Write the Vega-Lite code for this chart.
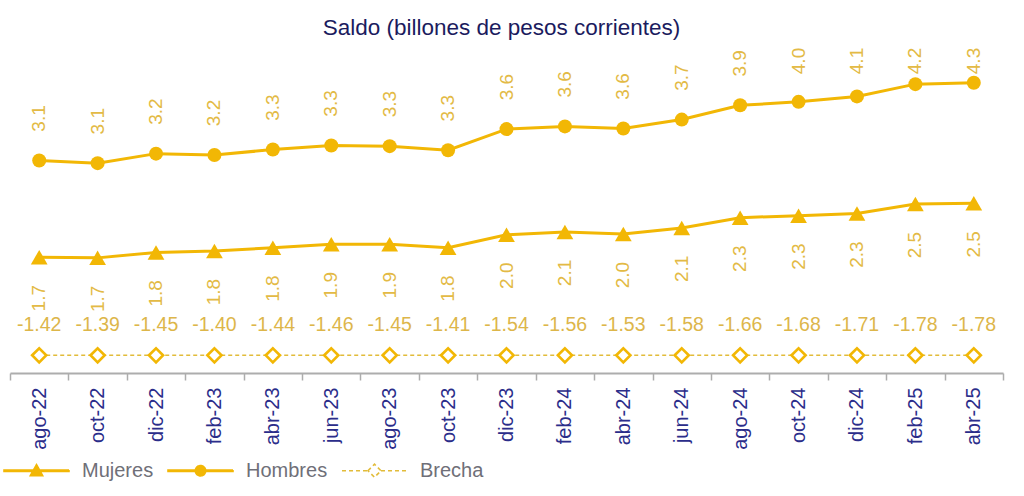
{
  "$schema": "https://vega.github.io/schema/vega-lite/v6.json",
  "width": 993,
  "height": 327,
  "autosize": {"type": "none"},
  "padding": {"left": 10, "top": 46, "right": 21, "bottom": 123},
  "background": "#ffffff",
  "title": {
    "text": "Saldo (billones de pesos corrientes)",
    "font": "Liberation Sans",
    "fontSize": 22.5,
    "fontWeight": "normal",
    "color": "#1B1B5E",
    "anchor": "middle",
    "baseline": "alphabetic",
    "offset": -11,
    "dx": -5
  },
  "config": {
    "view": {"stroke": null},
    "axis": {"grid": false},
    "text": {"font": "Liberation Sans"},
    "locale": {"number": {"decimal": ".", "thousands": ",", "grouping": [3], "currency": ["$", ""], "minus": "-"}}
  },
  "data": {
    "values": [
      {"mes": "ago-22", "serie": "Hombres", "valor": 3.12},
      {"mes": "oct-22", "serie": "Hombres", "valor": 3.08},
      {"mes": "dic-22", "serie": "Hombres", "valor": 3.22},
      {"mes": "feb-23", "serie": "Hombres", "valor": 3.20},
      {"mes": "abr-23", "serie": "Hombres", "valor": 3.28},
      {"mes": "jun-23", "serie": "Hombres", "valor": 3.34},
      {"mes": "ago-23", "serie": "Hombres", "valor": 3.33},
      {"mes": "oct-23", "serie": "Hombres", "valor": 3.27},
      {"mes": "dic-23", "serie": "Hombres", "valor": 3.58},
      {"mes": "feb-24", "serie": "Hombres", "valor": 3.62},
      {"mes": "abr-24", "serie": "Hombres", "valor": 3.59},
      {"mes": "jun-24", "serie": "Hombres", "valor": 3.72},
      {"mes": "ago-24", "serie": "Hombres", "valor": 3.93},
      {"mes": "oct-24", "serie": "Hombres", "valor": 3.98},
      {"mes": "dic-24", "serie": "Hombres", "valor": 4.06},
      {"mes": "feb-25", "serie": "Hombres", "valor": 4.24},
      {"mes": "abr-25", "serie": "Hombres", "valor": 4.26},
      {"mes": "ago-22", "serie": "Mujeres", "valor": 1.70},
      {"mes": "oct-22", "serie": "Mujeres", "valor": 1.69},
      {"mes": "dic-22", "serie": "Mujeres", "valor": 1.77},
      {"mes": "feb-23", "serie": "Mujeres", "valor": 1.79},
      {"mes": "abr-23", "serie": "Mujeres", "valor": 1.84},
      {"mes": "jun-23", "serie": "Mujeres", "valor": 1.89},
      {"mes": "ago-23", "serie": "Mujeres", "valor": 1.89},
      {"mes": "oct-23", "serie": "Mujeres", "valor": 1.84},
      {"mes": "dic-23", "serie": "Mujeres", "valor": 2.03},
      {"mes": "feb-24", "serie": "Mujeres", "valor": 2.07},
      {"mes": "abr-24", "serie": "Mujeres", "valor": 2.04},
      {"mes": "jun-24", "serie": "Mujeres", "valor": 2.13},
      {"mes": "ago-24", "serie": "Mujeres", "valor": 2.28},
      {"mes": "oct-24", "serie": "Mujeres", "valor": 2.31},
      {"mes": "dic-24", "serie": "Mujeres", "valor": 2.34},
      {"mes": "feb-25", "serie": "Mujeres", "valor": 2.48},
      {"mes": "abr-25", "serie": "Mujeres", "valor": 2.49},
      {"mes": "ago-22", "serie": "Brecha", "valor": -1.42},
      {"mes": "oct-22", "serie": "Brecha", "valor": -1.39},
      {"mes": "dic-22", "serie": "Brecha", "valor": -1.45},
      {"mes": "feb-23", "serie": "Brecha", "valor": -1.40},
      {"mes": "abr-23", "serie": "Brecha", "valor": -1.44},
      {"mes": "jun-23", "serie": "Brecha", "valor": -1.46},
      {"mes": "ago-23", "serie": "Brecha", "valor": -1.45},
      {"mes": "oct-23", "serie": "Brecha", "valor": -1.41},
      {"mes": "dic-23", "serie": "Brecha", "valor": -1.54},
      {"mes": "feb-24", "serie": "Brecha", "valor": -1.56},
      {"mes": "abr-24", "serie": "Brecha", "valor": -1.53},
      {"mes": "jun-24", "serie": "Brecha", "valor": -1.58},
      {"mes": "ago-24", "serie": "Brecha", "valor": -1.66},
      {"mes": "oct-24", "serie": "Brecha", "valor": -1.68},
      {"mes": "dic-24", "serie": "Brecha", "valor": -1.71},
      {"mes": "feb-25", "serie": "Brecha", "valor": -1.78},
      {"mes": "abr-25", "serie": "Brecha", "valor": -1.78}
    ]
  },
  "encoding": {
    "x": {
      "field": "mes",
      "type": "ordinal",
      "sort": null,
      "scale": {"type": "band", "paddingInner": 0, "paddingOuter": 0},
      "axis": {
        "title": null,
        "labelAngle": -90,
        "labelFont": "Liberation Sans",
        "labelFontSize": 20,
        "labelColor": "#2B2D8A",
        "labelPadding": 7,
        "domainColor": "#ADADAD",
        "domainWidth": 2,
        "tickColor": "#ADADAD",
        "tickWidth": 1.5,
        "tickSize": 7,
        "tickBand": "extent"
      }
    }
  },
  "layer": [
    {
      "transform": [{"filter": "datum.serie !== 'Brecha'"}],
      "mark": {"type": "line", "strokeWidth": 3},
      "encoding": {
        "y": {"field": "valor", "type": "quantitative", "scale": {"domain": [0, 4.8], "nice": false, "zero": false}, "axis": null},
        "detail": {"field": "serie"},
        "color": {
          "field": "serie",
          "type": "nominal",
          "scale": {"domain": ["Mujeres", "Hombres", "Brecha"], "range": ["#F2B705", "#F2B705", "#E2BC3A"]},
          "legend": {
            "orient": "none",
            "legendX": -7,
            "legendY": 391,
            "direction": "horizontal",
            "title": null,
            "padding": 0,
            "symbolSize": 4225,
            "symbolStrokeWidth": 1.6,
            "labelFont": "Liberation Sans",
            "labelFontSize": 20,
            "labelColor": "#6F6F78",
            "labelOffset": 12,
            "columnPadding": 10,
            "encode": {
              "symbols": {
                "update": {
                  "size": {"value": 4225},
                  "strokeWidth": {"value": 1.6},
                  "shape": {"signal": "datum.value === 'Mujeres' ? 'M-1,-0.02H1V0.02H-1ZM-0.19,0.15L0,-0.19L0.19,0.15Z' : datum.value === 'Hombres' ? 'M-1,-0.02H1V0.02H-1ZM0.16,0A0.16,0.16,0,1,1,-0.16,0A0.16,0.16,0,1,1,0.16,0Z' : 'M-1,0H-0.2M0.2,0H1M-0.2,0L0,-0.2L0.2,0L0,0.2Z'"},
                  "fill": {"signal": "datum.value === 'Brecha' ? '#ffffff' : '#F2B705'"},
                  "stroke": {"signal": "datum.value === 'Brecha' ? '#E2BC3A' : '#F2B705'"},
                  "strokeDash": {"signal": "datum.value === 'Brecha' ? [4, 3] : [1, 0]"},
                  "opacity": {"value": 1}
                }
              }
            }
          }
        }
      }
    },
    {
      "transform": [{"filter": "datum.serie === 'Mujeres'"}],
      "mark": {"type": "point", "shape": "triangle-up", "filled": true, "size": 280, "color": "#F2B705", "opacity": 1},
      "encoding": {"y": {"field": "valor", "type": "quantitative"}}
    },
    {
      "transform": [{"filter": "datum.serie === 'Hombres'"}],
      "mark": {"type": "point", "shape": "circle", "filled": true, "size": 196, "color": "#F2B705", "opacity": 1},
      "encoding": {"y": {"field": "valor", "type": "quantitative"}}
    },
    {
      "transform": [{"filter": "datum.serie === 'Brecha'"}],
      "mark": {"type": "line", "strokeWidth": 1.6, "strokeDash": [4, 3]},
      "encoding": {
        "y": {"datum": 0.26},
        "color": {"field": "serie", "type": "nominal"}
      }
    },
    {
      "transform": [{"filter": "datum.serie === 'Brecha'"}],
      "mark": {"type": "point", "shape": "diamond", "filled": true, "fill": "#ffffff", "stroke": "#F2B705", "strokeWidth": 2.6, "size": 200, "opacity": 1},
      "encoding": {"y": {"datum": 0.26}}
    },
    {
      "transform": [{"filter": "datum.serie === 'Hombres'"}],
      "mark": {"type": "text", "angle": 270, "align": "center", "baseline": "middle", "fontSize": 19, "color": "#E3BA45", "yOffset": {"expr": "max(68.125 * datum.valor - 312, -42)"}},
      "encoding": {
        "y": {"field": "valor", "type": "quantitative"},
        "text": {"field": "valor", "type": "quantitative", "format": ".1f"}
      }
    },
    {
      "transform": [{"filter": "datum.serie === 'Mujeres'"}],
      "mark": {"type": "text", "angle": 270, "align": "center", "baseline": "middle", "fontSize": 19, "color": "#E3BA45", "yOffset": 41},
      "encoding": {
        "y": {"field": "valor", "type": "quantitative"},
        "text": {"field": "valor", "type": "quantitative", "format": ".1f"}
      }
    },
    {
      "transform": [{"filter": "datum.serie === 'Brecha'"}],
      "mark": {"type": "text", "align": "center", "baseline": "middle", "fontSize": 19.5, "color": "#DDB64A", "yOffset": -30},
      "encoding": {
        "y": {"datum": 0.26},
        "text": {"field": "valor", "type": "quantitative", "format": ".2f"}
      }
    }
  ]
}
